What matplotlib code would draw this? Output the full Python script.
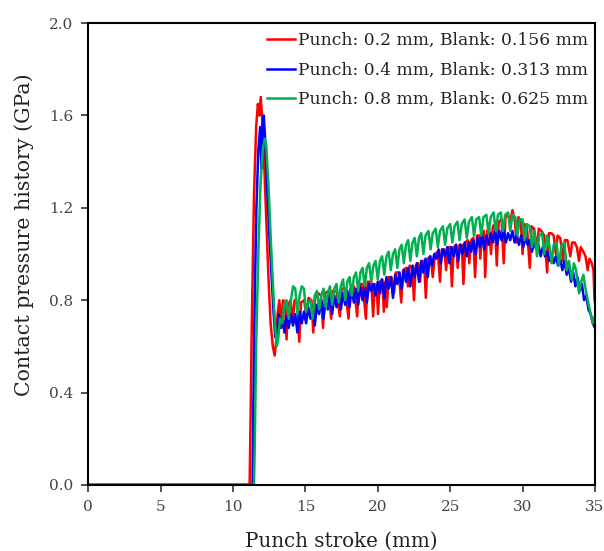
import matplotlib.pyplot as plt

plt.rcParams['font.family'] = ['DejaVu Serif']

labels = ['Punch: 0.2 mm, Blank: 0.156 mm',
          'Punch: 0.4 mm, Blank: 0.313 mm',
          'Punch: 0.8 mm, Blank: 0.625 mm']
colors = ['#ff0000', '#0000ff', '#00b050']

# (stroke mm, pressure GPa)
red = [(0, 0), (11.15, 0), (11.2, 0.22), (11.3, 0.7), (11.45, 1.25), (11.6, 1.55), (11.72, 1.65),
       (11.82, 1.6), (11.92, 1.68), (12.02, 1.58), (12.15, 1.4), (12.3, 1.15), (12.45, 0.9),
       (12.6, 0.7), (12.75, 0.6), (12.88, 0.56), (12.98, 0.62), (13.08, 0.74), (13.2, 0.8),
       (13.35, 0.68), (13.45, 0.8), (13.58, 0.79), (13.7, 0.63), (13.8, 0.78), (13.98, 0.8),
       (14.12, 0.7), (14.25, 0.8), (14.45, 0.78), (14.58, 0.62), (14.7, 0.79), (14.92, 0.8),
       (15.08, 0.72), (15.22, 0.81), (15.42, 0.8), (15.55, 0.66), (15.67, 0.81), (15.9, 0.83),
       (16.08, 0.82), (16.22, 0.68), (16.35, 0.83), (16.6, 0.84), (16.78, 0.72), (16.9, 0.84),
       (17.15, 0.84), (17.38, 0.73), (17.5, 0.85), (17.75, 0.85), (17.98, 0.72), (18.1, 0.85),
       (18.35, 0.86), (18.58, 0.73), (18.7, 0.87), (18.95, 0.87), (19.18, 0.72), (19.3, 0.88),
       (19.55, 0.88), (19.68, 0.73), (19.8, 0.87), (19.92, 0.86), (20.02, 0.74), (20.14, 0.88),
       (20.3, 0.89), (20.42, 0.75), (20.52, 0.88), (20.62, 0.77), (20.75, 0.9), (20.95, 0.9),
       (21.12, 0.83), (21.25, 0.92), (21.45, 0.92), (21.62, 0.79), (21.75, 0.93), (21.95, 0.94),
       (22.08, 0.86), (22.2, 0.95), (22.38, 0.94), (22.5, 0.8), (22.62, 0.95), (22.8, 0.96),
       (22.92, 0.88), (23.05, 0.97), (23.2, 0.97), (23.32, 0.81), (23.45, 0.98), (23.65, 0.99),
       (23.8, 0.9), (23.95, 1.0), (24.15, 1.01), (24.3, 0.88), (24.42, 1.02), (24.6, 1.02),
       (24.72, 0.93), (24.85, 1.03), (25.0, 1.03), (25.12, 0.86), (25.25, 1.03), (25.42, 1.04),
       (25.52, 0.94), (25.65, 1.04), (25.8, 1.04), (25.92, 0.87), (26.05, 1.05), (26.22, 1.06),
       (26.32, 0.96), (26.45, 1.06), (26.6, 1.07), (26.72, 0.9), (26.85, 1.08), (27.0, 1.08),
       (27.08, 0.98), (27.2, 1.09), (27.32, 1.1), (27.42, 0.9), (27.55, 1.1), (27.7, 1.11),
       (27.82, 1.0), (27.95, 1.12), (28.1, 1.13), (28.22, 0.95), (28.35, 1.14), (28.55, 1.15),
       (28.7, 0.96), (28.82, 1.16), (29.0, 1.17), (29.15, 1.14), (29.3, 1.19), (29.45, 1.15),
       (29.6, 1.05), (29.72, 1.16), (29.88, 1.14), (30.0, 1.0), (30.12, 1.13), (30.3, 1.12),
       (30.5, 0.94), (30.62, 1.12), (30.8, 1.11), (31.0, 1.02), (31.12, 1.11), (31.3, 1.1),
       (31.5, 1.08), (31.7, 0.92), (31.82, 1.09), (32.0, 1.09), (32.15, 1.08), (32.3, 1.0),
       (32.42, 1.08), (32.6, 1.07), (32.8, 0.97), (32.92, 1.06), (33.1, 1.06), (33.3, 0.99),
       (33.42, 1.05), (33.6, 1.05), (33.75, 1.03), (33.9, 0.97), (34.02, 1.03), (34.2, 1.01),
       (34.35, 0.99), (34.5, 0.93), (34.62, 0.98), (34.78, 0.96), (34.9, 0.93), (34.97, 0.8),
       (35.0, 0.79)]

blue = [(0, 0), (11.35, 0), (11.4, 0.3), (11.5, 0.8), (11.62, 1.2), (11.75, 1.45), (11.88, 1.55),
        (11.97, 1.37), (12.05, 1.58), (12.13, 1.6), (12.22, 1.5), (12.35, 1.3), (12.5, 1.1),
        (12.65, 0.92), (12.8, 0.75), (12.92, 0.64), (13.05, 0.66), (13.15, 0.74), (13.3, 0.68),
        (13.42, 0.73), (13.55, 0.66), (13.7, 0.73), (13.85, 0.68), (14.0, 0.74), (14.15, 0.69),
        (14.3, 0.74), (14.45, 0.66), (14.6, 0.75), (14.75, 0.7), (14.9, 0.75), (15.05, 0.7),
        (15.2, 0.77), (15.35, 0.72), (15.5, 0.77), (15.65, 0.69), (15.8, 0.78), (15.95, 0.74),
        (16.1, 0.8), (16.25, 0.72), (16.4, 0.8), (16.55, 0.76), (16.7, 0.82), (16.85, 0.74),
        (17.0, 0.82), (17.15, 0.77), (17.3, 0.83), (17.45, 0.76), (17.6, 0.83), (17.75, 0.78),
        (17.9, 0.84), (18.05, 0.77), (18.2, 0.85), (18.35, 0.79), (18.5, 0.85), (18.65, 0.78),
        (18.8, 0.86), (18.95, 0.8), (19.1, 0.86), (19.25, 0.79), (19.4, 0.87), (19.55, 0.84),
        (19.7, 0.87), (19.85, 0.82), (20.0, 0.88), (20.15, 0.83), (20.3, 0.89), (20.45, 0.81),
        (20.6, 0.9), (20.75, 0.85), (20.9, 0.9), (21.05, 0.81), (21.2, 0.91), (21.35, 0.87),
        (21.5, 0.92), (21.65, 0.85), (21.8, 0.93), (21.95, 0.88), (22.1, 0.94), (22.25, 0.86),
        (22.4, 0.95), (22.55, 0.9), (22.7, 0.96), (22.85, 0.88), (23.0, 0.97), (23.15, 0.92),
        (23.3, 0.98), (23.45, 0.9), (23.6, 0.99), (23.75, 0.95), (23.9, 1.0), (24.05, 0.98),
        (24.2, 1.02), (24.35, 0.96), (24.5, 1.02), (24.65, 0.99), (24.8, 1.03), (24.95, 0.96),
        (25.1, 1.03), (25.25, 0.99), (25.4, 1.04), (25.55, 0.97), (25.7, 1.04), (25.85, 1.0),
        (26.0, 1.05), (26.15, 0.99), (26.3, 1.05), (26.45, 1.01), (26.6, 1.06), (26.75, 1.0),
        (26.9, 1.07), (27.05, 1.03), (27.2, 1.08), (27.35, 1.02), (27.5, 1.08), (27.65, 1.04),
        (27.8, 1.09), (27.95, 1.05), (28.1, 1.1), (28.25, 1.04), (28.4, 1.1), (28.55, 1.06),
        (28.7, 1.1), (28.85, 1.05), (29.0, 1.09), (29.15, 1.06), (29.3, 1.1), (29.45, 1.05),
        (29.6, 1.08), (29.75, 1.04), (29.9, 1.08), (30.05, 1.03), (30.2, 1.07), (30.35, 1.04),
        (30.5, 1.06), (30.65, 1.01), (30.8, 1.05), (30.95, 1.02), (31.1, 1.04), (31.25, 0.99),
        (31.4, 1.03), (31.55, 0.99), (31.7, 1.01), (31.85, 0.97), (32.0, 1.0), (32.15, 0.96),
        (32.3, 0.99), (32.45, 0.95), (32.6, 0.98), (32.75, 0.93), (32.9, 0.97), (33.05, 0.91),
        (33.2, 0.94), (33.35, 0.88), (33.5, 0.92), (33.65, 0.86), (33.8, 0.9), (33.95, 0.84),
        (34.1, 0.87), (34.25, 0.8), (34.4, 0.82), (34.55, 0.76), (34.7, 0.74), (34.85, 0.7),
        (35.0, 0.68)]

green = [(0, 0), (11.45, 0), (11.5, 0.15), (11.6, 0.6), (11.75, 1.0), (11.9, 1.3), (12.05, 1.45),
         (12.2, 1.5), (12.3, 1.47), (12.45, 1.3), (12.6, 1.08), (12.75, 0.88), (12.9, 0.7),
         (13.02, 0.6), (13.12, 0.63), (13.25, 0.72), (13.4, 0.7), (13.55, 0.78), (13.7, 0.8),
         (13.85, 0.72), (14.0, 0.8), (14.15, 0.86), (14.3, 0.85), (14.45, 0.74), (14.6, 0.82),
         (14.75, 0.86), (14.9, 0.85), (15.05, 0.75), (15.2, 0.79), (15.35, 0.8), (15.5, 0.72),
         (15.65, 0.82), (15.8, 0.84), (15.95, 0.76), (16.1, 0.82), (16.25, 0.85), (16.4, 0.77),
         (16.55, 0.83), (16.7, 0.86), (16.85, 0.78), (17.0, 0.85), (17.15, 0.87), (17.3, 0.79),
         (17.45, 0.86), (17.6, 0.89), (17.75, 0.8), (17.9, 0.88), (18.05, 0.9), (18.2, 0.82),
         (18.35, 0.9), (18.5, 0.92), (18.65, 0.84), (18.8, 0.92), (18.95, 0.94), (19.1, 0.86),
         (19.25, 0.94), (19.4, 0.96), (19.55, 0.88), (19.7, 0.95), (19.85, 0.97), (20.0, 0.89),
         (20.15, 0.97), (20.3, 0.99), (20.45, 0.91), (20.6, 0.99), (20.75, 1.01), (20.9, 0.93),
         (21.05, 1.0), (21.2, 1.02), (21.35, 0.94), (21.5, 1.02), (21.65, 1.04), (21.8, 0.96),
         (21.95, 1.04), (22.1, 1.06), (22.25, 0.97), (22.4, 1.05), (22.55, 1.07), (22.7, 0.99),
         (22.85, 1.07), (23.0, 1.09), (23.15, 1.0), (23.3, 1.08), (23.5, 1.1), (23.65, 1.02),
         (23.8, 1.09), (24.0, 1.11), (24.15, 1.03), (24.3, 1.1), (24.5, 1.12), (24.65, 1.04),
         (24.8, 1.11), (25.0, 1.13), (25.15, 1.05), (25.3, 1.12), (25.5, 1.14), (25.65, 1.06),
         (25.8, 1.13), (26.0, 1.15), (26.15, 1.07), (26.3, 1.14), (26.5, 1.16), (26.65, 1.08),
         (26.8, 1.15), (27.0, 1.16), (27.15, 1.08), (27.3, 1.16), (27.5, 1.17), (27.65, 1.09),
         (27.8, 1.16), (28.0, 1.18), (28.15, 1.1), (28.3, 1.17), (28.5, 1.18), (28.65, 1.1),
         (28.8, 1.17), (29.0, 1.18), (29.15, 1.1), (29.3, 1.17), (29.5, 1.16), (29.65, 1.08),
         (29.8, 1.15), (30.0, 1.15), (30.15, 1.06), (30.3, 1.13), (30.5, 1.12), (30.65, 1.03),
         (30.8, 1.1), (31.0, 0.99), (31.15, 1.08), (31.35, 1.09), (31.5, 1.0), (31.7, 1.08),
         (31.85, 1.04), (32.0, 0.96), (32.15, 1.04), (32.35, 1.05), (32.5, 0.95), (32.7, 1.04),
         (32.9, 1.05), (33.05, 0.93), (33.2, 0.97), (33.4, 0.89), (33.55, 0.96), (33.7, 0.93),
         (33.9, 0.83), (34.05, 0.88), (34.2, 0.91), (34.35, 0.85), (34.5, 0.8), (34.6, 0.77),
         (34.75, 0.73), (34.85, 0.7), (34.95, 0.72), (35.0, 0.73)]

x_ticks = [0, 5, 10, 15, 20, 25, 30, 35]
y_ticks = [0.0, 0.4, 0.8, 1.2, 1.6, 2.0]

fig = plt.figure(figsize=(6.04, 5.51), dpi=100)
ax = fig.add_axes([0.146, 0.12, 0.839, 0.838])

for data, c, lab in zip([red, blue, green], colors, labels):
    xs, ys = zip(*data)
    ax.plot(xs, ys, color=c, lw=1.8, label=lab)

ax.set_xlim(0, 35)
ax.set_ylim(0, 2.0)
ax.set_xticks(x_ticks)
ax.set_yticks(y_ticks)
ax.set_yticklabels([f'{v:.1f}' for v in y_ticks])
ax.tick_params(direction='out', length=5, width=1.2, labelsize=11, pad=6, colors='#333333',
               labelcolor='#444444')
for s in ax.spines.values():
    s.set_linewidth(1.5)

ax.set_xlabel('Punch stroke (mm)', fontsize=14.3, color='#222222', labelpad=13)
ax.set_ylabel('Contact pressure history (GPa)', fontsize=14.8, color='#222222')
# label sits a bit above the middle of the axis in the original
ax.yaxis.set_label_coords(-0.106, 0.541)

ax.legend(loc='upper right', bbox_to_anchor=(1.004, 1.0), frameon=False, fontsize=12.3,
          handlelength=1.65, handletextpad=0.2, borderaxespad=0.1, labelspacing=0.75,
          labelcolor='#222222')

fig.savefig('out.png', dpi=100)
